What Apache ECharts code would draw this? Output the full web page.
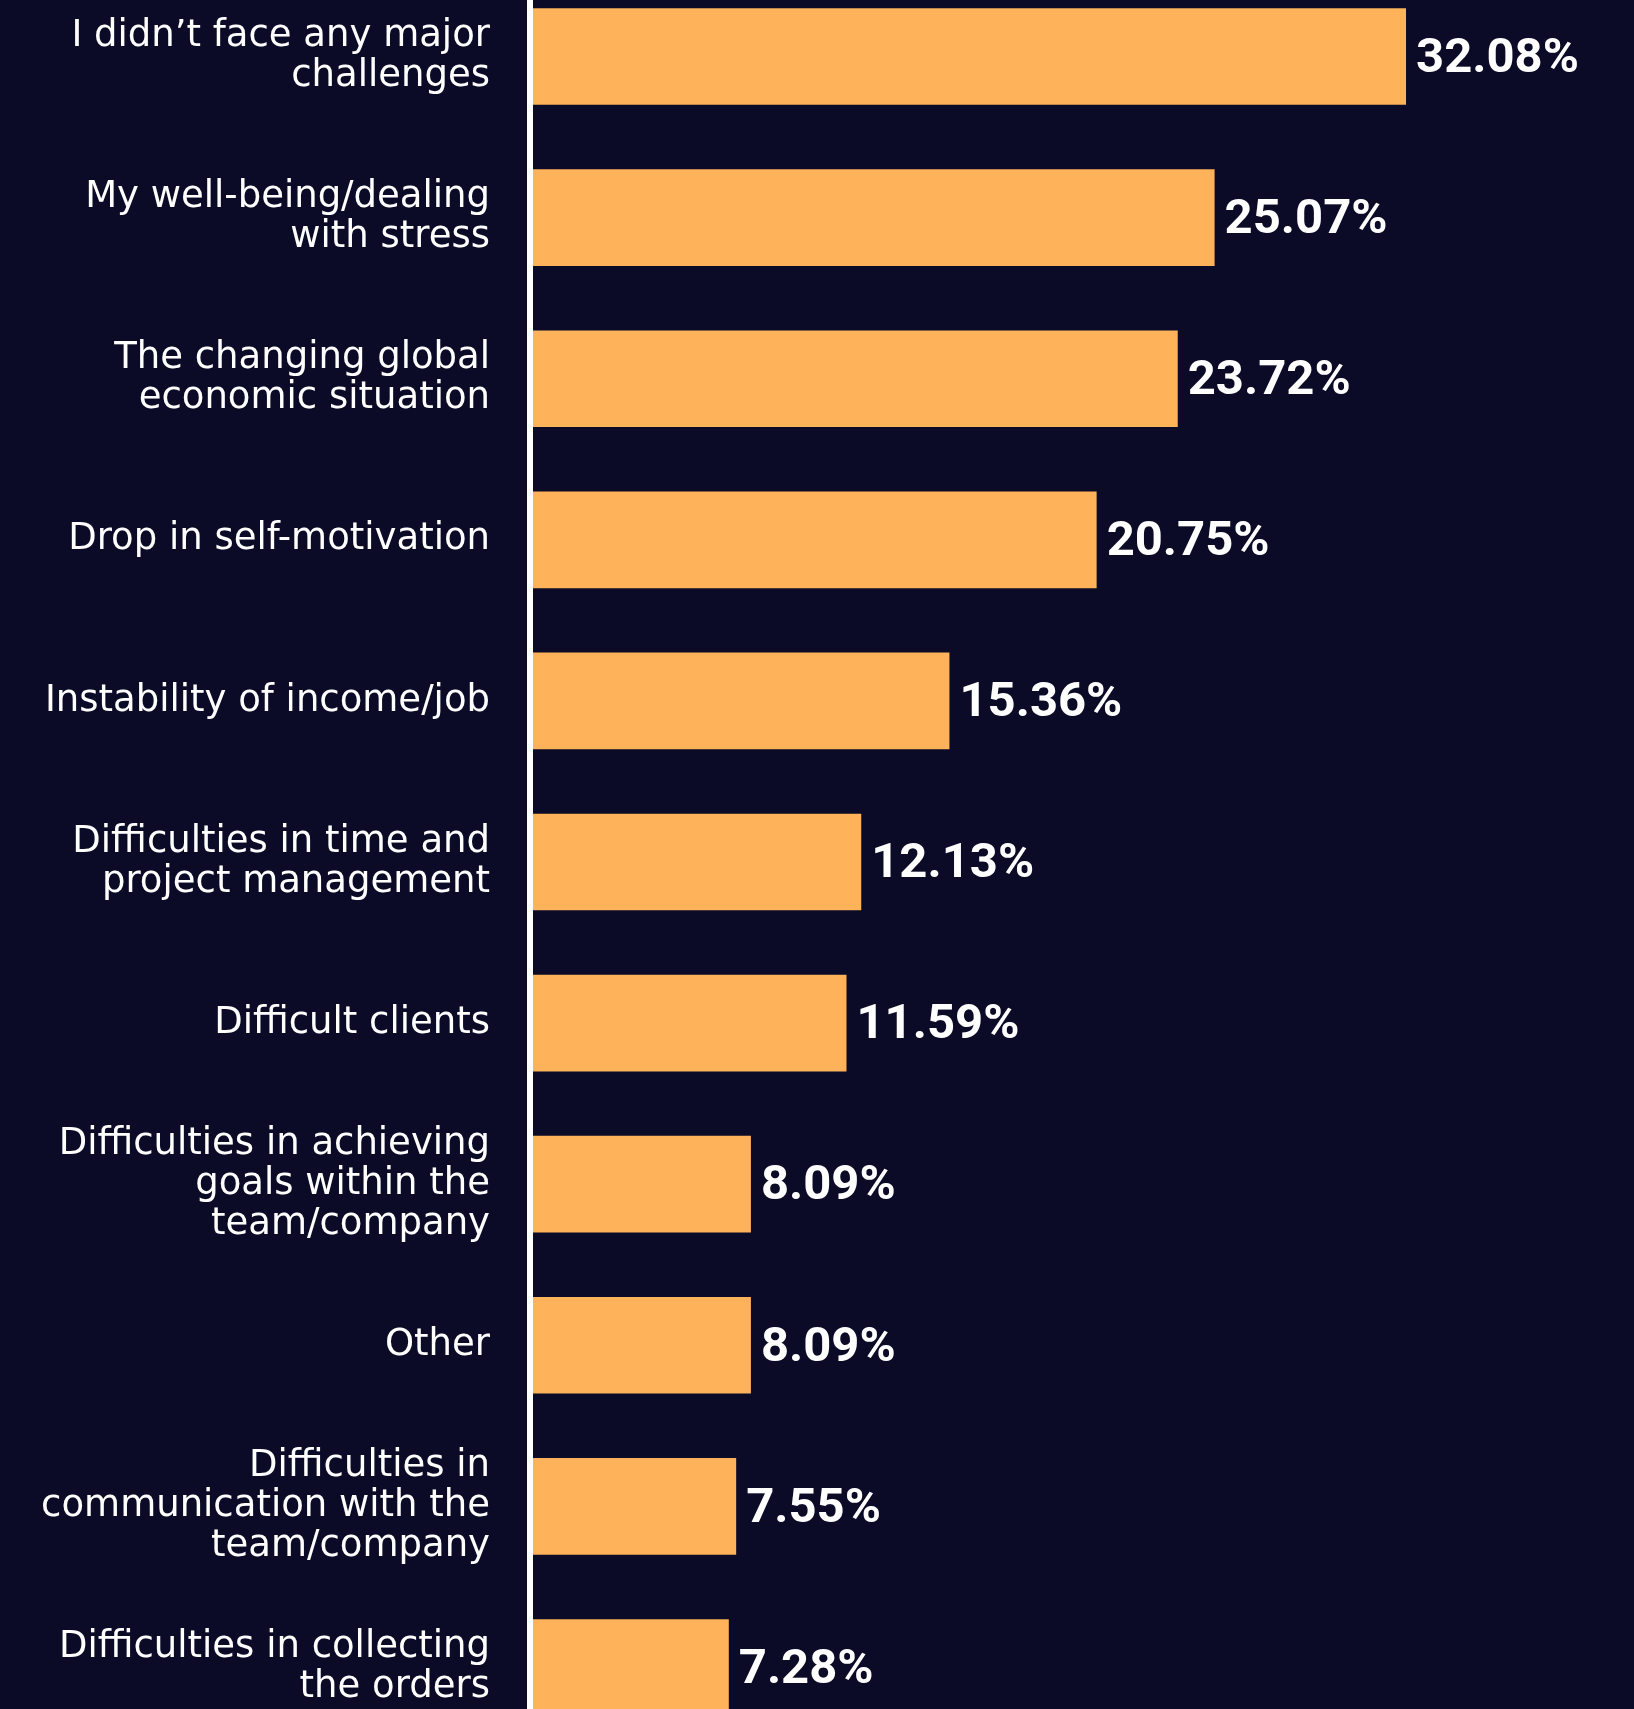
<!DOCTYPE html>
<html>
<head>
<meta charset="utf-8">
<style>
  html, body { margin: 0; padding: 0; background: #0b0b27; }
  #chart { width: 1634px; height: 1709px; }
</style>
<script src="https://cdn.jsdelivr.net/npm/echarts@6/dist/echarts.min.js"></script>
</head>
<body>
<div id="chart"></div>
<script>
const categories = [
  "I didn\u2019t face any major\nchallenges",
  "My well-being/dealing\nwith stress",
  "The changing global\neconomic situation",
  "Drop in self-motivation",
  "Instability of income/job",
  "Difficulties in time and\nproject management",
  "Difficult clients",
  "Difficulties in achieving\ngoals within the\nteam/company",
  "Other",
  "Difficulties in\ncommunication with the\nteam/company",
  "Difficulties in collecting\nthe orders"
];
const values = [32.08, 25.07, 23.72, 20.75, 15.36, 12.13, 11.59, 8.09, 8.09, 7.55, 7.28];

const chart = echarts.init(document.getElementById('chart'), null, { renderer: 'canvas' });
chart.setOption({
  backgroundColor: '#0b0b27',
  animation: false,
  grid: { left: 530, top: -24, height: 1772, width: 1092.3, containLabel: false, outerBoundsMode: 'none' },
  xAxis: {
    type: 'value', min: 0, max: 40,
    show: false
  },
  yAxis: {
    type: 'category',
    data: categories,
    inverse: true,
    offset: 4,
    z: 5,
    axisLine: { show: true, lineStyle: { color: '#ffffff', width: 6 } },
    axisTick: { show: false },
    axisLabel: {
      color: '#ffffff',
      fontFamily: 'DejaVu Sans',
      fontSize: 37,
      lineHeight: 40,
      margin: 36,
      align: 'right'
    },
    splitLine: { show: false }
  },
  series: [{
    type: 'bar',
    data: values,
    barCategoryGap: '40%',
    itemStyle: { color: '#feb25a' },
    label: {
      show: true,
      position: 'right',
      distance: 10,
      color: '#ffffff',
      fontFamily: 'Roboto',
      fontWeight: 'bold',
      fontSize: 49,
      offset: [0, 3],
      formatter: p => p.value.toFixed(2) + '%'
    }
  }]
});
</script>
</body>
</html>
